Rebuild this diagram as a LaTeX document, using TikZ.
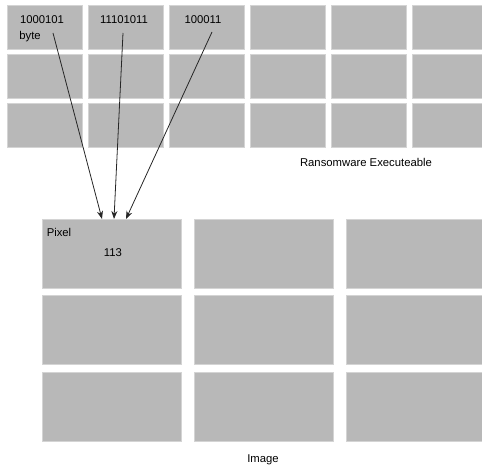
\documentclass[tikz,border=0pt]{standalone}
\usepackage{fontspec}
\setmainfont{Liberation Sans}
\usetikzlibrary{arrows.meta}
\definecolor{cellgray}{HTML}{B8B8B8}
\definecolor{celledge}{HTML}{D4D4D4}
\begin{document}
\begin{tikzpicture}[x=1pt,y=-1pt,
  cell/.style={fill=cellgray,draw=celledge,line width=0.6pt},
  lbl/.style={font=\fontsize{11.3}{13}\selectfont,inner sep=0pt},
  conn/.style={draw=black!85,line width=0.8pt,-{Stealth[length=8pt,width=6pt]}}]
\useasboundingbox (0,0) rectangle (482,470);
% byte grid of the executable (6 x 3, last column cut off)
\foreach \c in {0,...,5}{
  \foreach \r in {0,...,2}{
    \path[cell] (7.5+81*\c,5+49*\r) rectangle ++(74.5,44.5);
  }
}
\node[lbl] (exe) at (366,162) {Ransomware Executeable};
\node[lbl] (b1) at (42,20) {1000101};
\node[lbl] (bt) at (30,37) {byte};
\node[lbl] (b2) at (124,20) {11101011};
\node[lbl] (b3) at (203,20) {100011};
% pixel grid of the image (3 x 3, last column cut off)
\foreach \c in {0,...,2}{
  \foreach \r in {0,...,2}{
    \path[cell] (42+152*\c,219+76.5*\r) rectangle ++(139,69);
  }
}
\node[lbl] (pix) at (59,232) {Pixel};
\node[lbl] (val) at (113,253) {113};
\node[lbl] (img) at (263,460) {Image};
% byte -> pixel connectors
\coordinate (s1) at (53,33);
\coordinate (s2) at (123,33);
\coordinate (s3) at (212,32);
\coordinate (t1) at (102,219);
\coordinate (t2) at (114,219);
\coordinate (t3) at (126,219);
\draw[conn] (s1) -- (t1);
\draw[conn] (s2) -- (t2);
\draw[conn] (s3) -- (t3);
\end{tikzpicture}
\end{document}
